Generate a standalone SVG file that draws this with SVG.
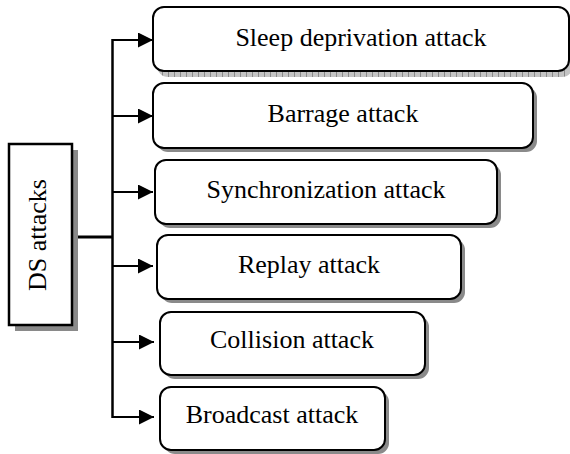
<svg xmlns="http://www.w3.org/2000/svg" width="570" height="454" viewBox="0 0 570 454">
<defs>
<style>
.box{fill:#fff;stroke:#000;stroke-width:2}
.sh{fill:#8a8a8a}
.lbl{font-family:"Liberation Serif","Times New Roman",serif;font-size:26px;fill:#000;text-anchor:middle}
.ln{fill:none;stroke:#000;stroke-width:2}
</style>
<pattern id="hatch" width="6" height="8" patternUnits="userSpaceOnUse">
<rect width="6" height="8" fill="#c4c4c4"/>
<rect x="0" width="1" height="8" fill="#8a8a8a"/>
</pattern>
<marker id="ah" markerUnits="userSpaceOnUse" markerWidth="16" markerHeight="16" refX="15" refY="7.5" orient="auto">
<path d="M0,0 L15,7.5 L0,15 Z" fill="#000"/>
</marker>
</defs>
<g id="connectors">
<line class="ln" x1="72" y1="237" x2="113" y2="237" style="stroke-width:3"/>
<line class="ln" x1="112.5" y1="39" x2="112.5" y2="418" style="stroke-width:2.5"/>
<line class="ln" x1="112" y1="40" x2="153" y2="40" marker-end="url(#ah)"/>
<line class="ln" x1="112" y1="116" x2="153" y2="116" marker-end="url(#ah)"/>
<line class="ln" x1="112" y1="192" x2="153" y2="192" marker-end="url(#ah)"/>
<line class="ln" x1="112" y1="266" x2="153" y2="266" marker-end="url(#ah)"/>
<line class="ln" x1="112" y1="342" x2="154" y2="342" marker-end="url(#ah)"/>
<line class="ln" x1="112" y1="417" x2="154" y2="417" marker-end="url(#ah)"/>
</g>
<g id="ds">
<rect class="sh" x="15" y="150" width="63" height="181"/>
<rect class="box" x="9" y="144" width="63" height="181" style="stroke-width:2.5"/>
<text class="lbl" transform="translate(46,235) rotate(-90)">DS attacks</text>
</g>
<g id="sleep">
<rect x="157" y="11" width="416" height="66" rx="11" fill="url(#hatch)"/>
<rect class="box" x="153" y="7" width="416" height="64" rx="11"/>
<text class="lbl" x="361" y="46">Sleep deprivation attack</text>
</g>
<g id="barrage">
<rect class="sh" x="157" y="87" width="380" height="65" rx="11"/>
<rect class="box" x="153" y="83" width="380" height="65" rx="11"/>
<text class="lbl" x="343" y="122">Barrage attack</text>
</g>
<g id="sync">
<rect class="sh" x="159" y="164" width="342" height="64" rx="11"/>
<rect class="box" x="155" y="160" width="342" height="64" rx="11"/>
<text class="lbl" x="326" y="198">Synchronization attack</text>
</g>
<g id="replay">
<rect class="sh" x="161" y="239" width="304" height="64" rx="11"/>
<rect class="box" x="157" y="235" width="304" height="64" rx="11"/>
<text class="lbl" x="309" y="273">Replay attack</text>
</g>
<g id="collision">
<rect class="sh" x="164" y="316" width="265" height="63" rx="11"/>
<rect class="box" x="160" y="312" width="265" height="63" rx="11"/>
<text class="lbl" x="292" y="348">Collision attack</text>
</g>
<g id="broadcast">
<rect class="sh" x="164" y="391" width="225" height="63" rx="11"/>
<rect class="box" x="160" y="387" width="225" height="63" rx="11"/>
<text class="lbl" x="272" y="423">Broadcast attack</text>
</g>
</svg>
